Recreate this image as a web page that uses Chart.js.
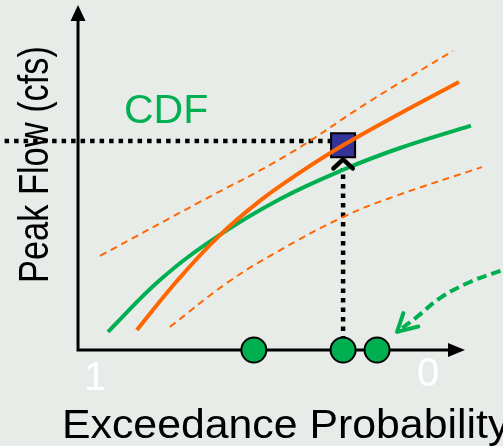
<!DOCTYPE html>
<html>
<head>
<meta charset="utf-8">
<script src="https://cdn.jsdelivr.net/npm/chart.js@4.4.1/dist/chart.umd.min.js"></script>
<style>
  html, body { margin: 0; padding: 0; background: #e8ece9; }
  #wrap { width: 503px; height: 446px; }
</style>
</head>
<body>
<div id="wrap"><canvas id="c" width="503" height="446"></canvas></div>
<script>
// x: exceedance probability (1 on the left, 0 on the right); y: peak flow, schematic units
const probTickValues = [1, 0];
const probTickLabels = ['1', '0'];

// empirical CDF (green) and fitted frequency curve with its confidence limits (orange)
const cdfX   = [0.961, 0.805, 0.631, 0.444, 0.255, 0.084, -0.129];
const cdfY   = [5.4, 20.9, 34.0, 45.1, 53.8, 60.3, 67.0];
const fitX   = [0.874, 0.754, 0.631, 0.505, 0.384, 0.255, 0.084, -0.093];
const fitY   = [6.0, 20.6, 33.7, 44.5, 53.0, 61.1, 70.6, 80.0];
const upperX = [0.985, 0.685, 0.423, 0.174, -0.075];
const upperY = [28.1, 44.2, 58.2, 74.3, 89.3];
const lowerX = [0.775, 0.604, 0.453, 0.255, 0.105, -0.162];
const lowerY = [6.9, 20.0, 29.3, 39.7, 45.7, 54.6];

// observed peaks plotted on the probability axis
const obsX = [0.523, 0.255, 0.153];
const obsY = [0, 0, 0];

// design event
const designX = 0.255;
const designY = 61.1;
const readLineY = 62.4;     // level of the horizontal read-off line
const readLineLeft = 1.30;  // runs out past the y axis
const readLineRight = 0.291;
const readArrowTop = 54.3;  // top of the vertical read-off line
const chevron = [[0.284, 54.2], [0.255, 56.9], [0.226, 54.2]];

// curved pointer toward the observed peaks
const pointerX = [-0.261, -0.225, -0.126, -0.036, 0.033, 0.093];
const pointerY = [25.1, 23.9, 20.3, 15.5, 9.9, 5.4];
const pointerHead = [[0.074, 11.0], [0.093, 5.4], [0.029, 7.0]];

// axes
const axisOrigin = [1.051, 0];
const xAxisEnd = -0.111;
const yAxisEnd = 103;

// probability range covered by the full canvas width
const xMin = -0.2252;
const xMax = 1.2853;

const zip = (xs, ys) => xs.map((v, i) => ({ x: v, y: ys[i] }));

const GREEN = '#00b050';
const ORANGE = '#ff6600';
const FONT = '"Liberation Sans", Arial, Helvetica, sans-serif';

const sketchPlugin = {
  id: 'sketch',
  beforeDraw(chart) {
    const { ctx, width, height } = chart;
    ctx.save();
    ctx.fillStyle = '#e8ece9';
    ctx.fillRect(0, 0, width, height);
    ctx.restore();
  },
  beforeDatasetsDraw(chart) {
    const { ctx, scales: { x, y } } = chart;
    const ox = x.getPixelForValue(axisOrigin[0]);
    const oy = y.getPixelForValue(axisOrigin[1]);
    const tx = x.getPixelForValue(xAxisEnd);
    const ty = y.getPixelForValue(yAxisEnd);
    ctx.save();
    ctx.strokeStyle = '#000';
    ctx.fillStyle = '#000';
    ctx.lineWidth = 3;
    ctx.beginPath();
    ctx.moveTo(ox - 1.5, oy);
    ctx.lineTo(tx - 12, oy);
    ctx.moveTo(ox, oy + 1.5);
    ctx.lineTo(ox, ty + 12);
    ctx.stroke();
    ctx.beginPath();
    ctx.moveTo(tx, oy);
    ctx.lineTo(tx - 17, oy - 7);
    ctx.lineTo(tx - 17, oy + 7);
    ctx.closePath();
    ctx.fill();
    ctx.beginPath();
    ctx.moveTo(ox, ty);
    ctx.lineTo(ox - 7.5, ty + 16);
    ctx.lineTo(ox + 7.5, ty + 16);
    ctx.closePath();
    ctx.fill();
    ctx.restore();
  },
  afterDatasetsDraw(chart) {
    const { ctx, scales: { x, y } } = chart;
    const px = p => [x.getPixelForValue(p[0]), y.getPixelForValue(p[1])];
    const polyline = (pts) => {
      ctx.beginPath();
      pts.map(px).forEach(([a, b], i) => i ? ctx.lineTo(a, b) : ctx.moveTo(a, b));
      ctx.stroke();
    };
    ctx.save();
    ctx.lineCap = 'round';
    ctx.lineJoin = 'round';
    // arrowhead on the vertical read-off line
    ctx.strokeStyle = '#000';
    ctx.lineWidth = 4.5;
    polyline(chevron);
    // arrowhead on the curved pointer
    ctx.strokeStyle = GREEN;
    ctx.lineWidth = 4;
    polyline(pointerHead);
    ctx.restore();

    // tick labels at the ends of the probability axis
    ctx.save();
    ctx.fillStyle = '#ffffff';
    ctx.font = '40px ' + FONT;
    ctx.textAlign = 'center';
    ctx.textBaseline = 'alphabetic';
    const base = [390, 386];
    probTickValues.forEach((v, i) => {
      ctx.fillText(probTickLabels[i], x.getPixelForValue(v), base[i]);
    });
    ctx.restore();

    // axis titles and curve label
    ctx.save();
    ctx.fillStyle = '#000';
    ctx.textAlign = 'left';
    ctx.textBaseline = 'alphabetic';
    ctx.font = '40px ' + FONT;
    ctx.save();
    ctx.translate(62, 438);
    ctx.scale(1.07, 1);
    ctx.fillText('Exceedance Probability', 0, 0);
    ctx.restore();

    ctx.save();
    ctx.translate(48, 283);
    ctx.rotate(-Math.PI / 2);
    ctx.font = '43px ' + FONT;
    ctx.scale(0.8, 1);
    ctx.fillText('Peak Flow (cfs)', 0, 0);
    ctx.restore();

    ctx.fillStyle = GREEN;
    ctx.font = '41px ' + FONT;
    ctx.fillText('CDF', 124, 123);
    ctx.restore();
  }
};

const chart = new Chart(document.getElementById('c'), {
  type: 'line',
  data: {
    datasets: [
      { // observed peaks
        data: zip(obsX, obsY), showLine: false, order: 0,
        pointStyle: 'circle', pointRadius: 12.5, pointBorderWidth: 2,
        pointBackgroundColor: GREEN, pointBorderColor: '#000', clip: false
      },
      { // fitted curve
        data: zip(fitX, fitY), order: 1, borderColor: ORANGE, borderWidth: 4,
        pointRadius: 0, tension: 0.4, clip: false, borderCapStyle: 'butt'
      },
      { // design point
        data: [{ x: designX, y: designY }], showLine: false, order: 2,
        pointStyle: 'rect', pointRadius: 17, pointBorderWidth: 2,
        pointBackgroundColor: '#333399', pointBorderColor: '#000', clip: false
      },
      { // empirical CDF
        data: zip(cdfX, cdfY), order: 3, borderColor: GREEN, borderWidth: 4,
        pointRadius: 0, tension: 0.4, clip: false
      },
      { // upper confidence limit
        data: zip(upperX, upperY), order: 4, borderColor: ORANGE, borderWidth: 2,
        borderDash: [7, 5], pointRadius: 0, tension: 0.4, clip: false
      },
      { // lower confidence limit
        data: zip(lowerX, lowerY), order: 5, borderColor: ORANGE, borderWidth: 2,
        borderDash: [7, 5], pointRadius: 0, tension: 0.4, clip: false
      },
      { // horizontal read-off line
        data: [{ x: readLineLeft, y: readLineY }, { x: readLineRight, y: readLineY }],
        order: 6, borderColor: '#000', borderWidth: 4.5, borderDash: [4.5, 5],
        borderCapStyle: 'butt', pointRadius: 0, clip: false
      },
      { // vertical read-off line
        data: [{ x: designX, y: 0 }, { x: designX, y: readArrowTop }],
        order: 7, borderColor: '#000', borderWidth: 4.5, borderDash: [4.5, 5],
        borderCapStyle: 'butt', pointRadius: 0, clip: false
      },
      { // curved pointer
        data: zip(pointerX, pointerY), order: 8, borderColor: GREEN, borderWidth: 4,
        borderDash: [10, 5], pointRadius: 0, tension: 0.4, clip: false
      }
    ]
  },
  options: {
    responsive: false,
    animation: false,
    events: [],
    layout: { autoPadding: false, padding: { left: 0, right: 0, top: 15, bottom: 96 } },
    plugins: { legend: { display: false }, tooltip: { enabled: false } },
    scales: {
      x: { type: 'linear', min: xMin, max: xMax, reverse: true, display: false },
      y: { type: 'linear', min: 0, max: 100, display: false }
    }
  },
  plugins: [sketchPlugin]
});
</script>
</body>
</html>
